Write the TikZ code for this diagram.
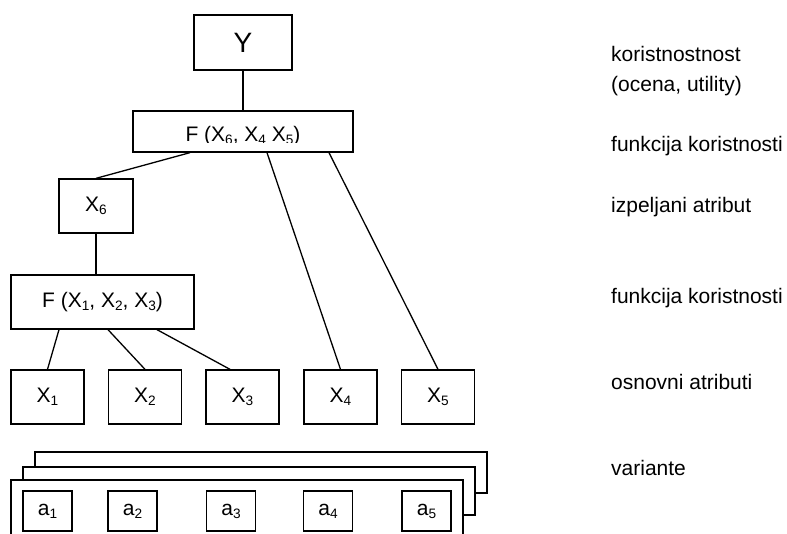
\documentclass[tikz,border=0pt]{standalone}
\usepackage{fontspec}
\setmainfont{Liberation Sans}
\usepackage{graphicx}
% lowered, reduced index as in X1, a1
\newcommand{\lo}[1]{\raisebox{-0.14em}{\scalebox{0.65}{#1}}}

\begin{document}
\begin{tikzpicture}[x=1pt,y=-1pt,
  box/.style={draw,line width=1.3pt,fill=white,inner sep=0pt,
              font=\fontsize{21}{25}\selectfont},
  attr/.style={box,minimum width=73pt,minimum height=54pt},
  alt/.style={box,minimum width=49pt,minimum height=40pt},
  link/.style={line width=1.3pt},
  note/.style={anchor=base west,inner sep=0pt,font=\fontsize{21}{25}\selectfont}]
\useasboundingbox (0,0) rectangle (787,534);
\clip (0,0) rectangle (787,534);

% utility and aggregation functions
\node[box,minimum width=98pt,minimum height=55pt,font=\fontsize{28}{32}\selectfont] (Y) at (243,42.5) {Y};
\node[box,minimum width=220pt,minimum height=41pt] (F1) at (243,131.5) {};
\begin{scope}
  % the label of this box is cut off at its base line
  \clip ([shift={(1pt,-1pt)}]F1.north west) rectangle ([shift={(-1pt,0pt)}]F1.east |- 0,142.6);
  \node[anchor=base,inner sep=0pt,font=\fontsize{21}{25}\selectfont] (F1text) at (243,142)
    {F (X\lo{6}, X\lo{4} X\lo{5})};
\end{scope}
\node[box,minimum width=74pt,minimum height=54pt] (X6) at (96,206) {X\lo{6}};
\node[box,minimum width=183pt,minimum height=54pt] (F2) at (102.5,302) {F (X\lo{1}, X\lo{2}, X\lo{3})};

% basic attributes
\node[attr] (X1) at (47.5,397) {X\lo{1}};
\node[attr] (X2) at (145,397) {X\lo{2}};
\node[attr] (X3) at (242.5,397) {X\lo{3}};
\node[attr] (X4) at (340.5,397) {X\lo{4}};
\node[attr] (X5) at (438,397) {X\lo{5}};

% connections of the hierarchy
\draw[link] (Y.south) -- (F1.north);
\draw[link] ([xshift=-53pt]F1.south) -- (X6.north);
\draw[link] ([xshift=24pt]F1.south) -- (X4.north);
\draw[link] ([xshift=86pt]F1.south) -- (X5.north);
\draw[link] (X6.south) -- (X6.south |- F2.north);
\draw[link] ([xshift=-43.5pt]F2.south) -- (X1.north);
\draw[link] ([xshift=5.5pt]F2.south) -- (X2.north);
\draw[link] ([xshift=54.5pt]F2.south) -- ([xshift=-12.5pt]X3.north);

% stack of variants
\draw[link,fill=white] (35,452) rectangle (487,493);
\draw[link,fill=white] (23,467) rectangle (475,515);
\draw[link,fill=white] (11,480) rectangle (463,560);
\node[alt] (a1) at (47.5,511) {a\lo{1}};
\node[alt] (a2) at (132.5,511) {a\lo{2}};
\node[alt] (a3) at (231,511) {a\lo{3}};
\node[alt] (a4) at (328,511) {a\lo{4}};
\node[alt] (a5) at (426.5,511) {a\lo{5}};

% level descriptions
\node[note] (n1) at (611,62) {koristnostnost};
\node[note] (n2) at (611,92) {(ocena, utility)};
\node[note] (n3) at (611,152) {funkcija koristnosti};
\node[note] (n4) at (611,213) {izpeljani atribut};
\node[note] (n5) at (611,304) {funkcija koristnosti};
\node[note] (n6) at (611,389) {osnovni atributi};
\node[note] (n7) at (611,475) {variante};
\end{tikzpicture}
\end{document}
